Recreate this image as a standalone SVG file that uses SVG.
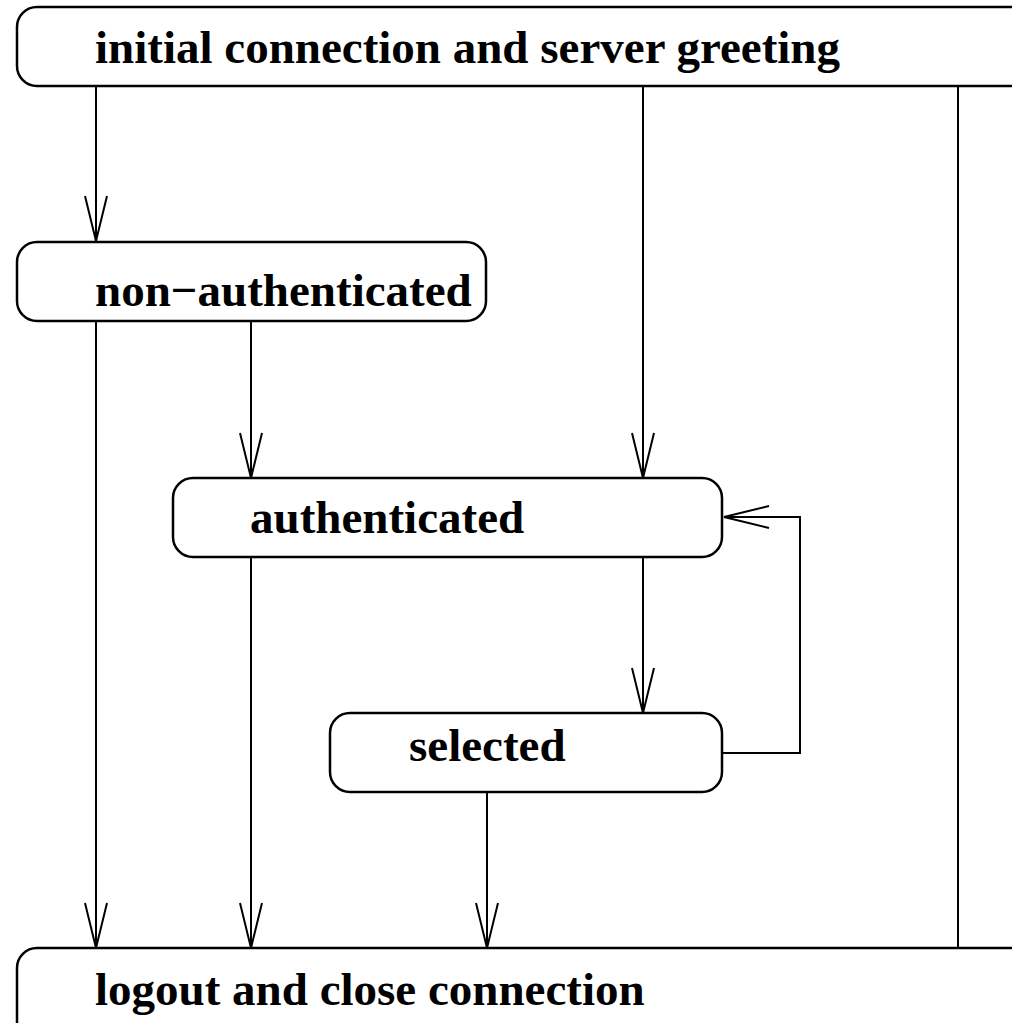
<svg xmlns="http://www.w3.org/2000/svg" width="1012" height="1023" viewBox="0 0 1012 1023">
<defs>
<style>
.box{fill:#fff;stroke:#000;stroke-width:2.5}
.lbl{font-family:"Liberation Serif","Times New Roman",serif;font-weight:bold;font-size:47px;fill:#000}
.ln{fill:none;stroke:#000;stroke-width:2}
</style>
<marker id="ah" viewBox="0 0 50 26" refX="48" refY="13" markerWidth="50" markerHeight="26" markerUnits="userSpaceOnUse" orient="auto">
<path d="M3,2 L48,13 L3,24" fill="none" stroke="#000" stroke-width="2"/>
</marker>
</defs>
<rect width="1012" height="1023" fill="#fff"/>
<g id="connectors">
<line class="ln" x1="96" y1="86" x2="96" y2="241" marker-end="url(#ah)"/>
<line class="ln" x1="643" y1="86" x2="643" y2="478" marker-end="url(#ah)"/>
<line class="ln" x1="958" y1="86" x2="958" y2="948"/>
<line class="ln" x1="96" y1="321" x2="96" y2="948" marker-end="url(#ah)"/>
<line class="ln" x1="251" y1="321" x2="251" y2="478" marker-end="url(#ah)"/>
<line class="ln" x1="251" y1="557" x2="251" y2="948" marker-end="url(#ah)"/>
<line class="ln" x1="643" y1="557" x2="643" y2="713" marker-end="url(#ah)"/>
<line class="ln" x1="487" y1="793" x2="487" y2="948" marker-end="url(#ah)"/>
<polyline class="ln" points="723,753 800,753 800,517 724,517" marker-end="url(#ah)"/>
</g>
<g id="node-initial">
<rect class="box" x="17" y="7" width="1020" height="79" rx="20"/>
<text class="lbl" x="95" y="63">initial connection and server greeting</text>
</g>
<g id="node-nonauth">
<rect class="box" x="17" y="242" width="469" height="79" rx="20"/>
<text class="lbl" x="95" y="306">non−authenticated</text>
</g>
<g id="node-auth">
<rect class="box" x="173" y="478" width="549" height="79" rx="20"/>
<text class="lbl" x="250" y="533">authenticated</text>
</g>
<g id="node-selected">
<rect class="box" x="330" y="713" width="392" height="79" rx="20"/>
<text class="lbl" x="409" y="761">selected</text>
</g>
<g id="node-logout">
<rect class="box" x="17" y="948" width="1020" height="100" rx="20"/>
<text class="lbl" x="95" y="1005">logout and close connection</text>
</g>
</svg>
